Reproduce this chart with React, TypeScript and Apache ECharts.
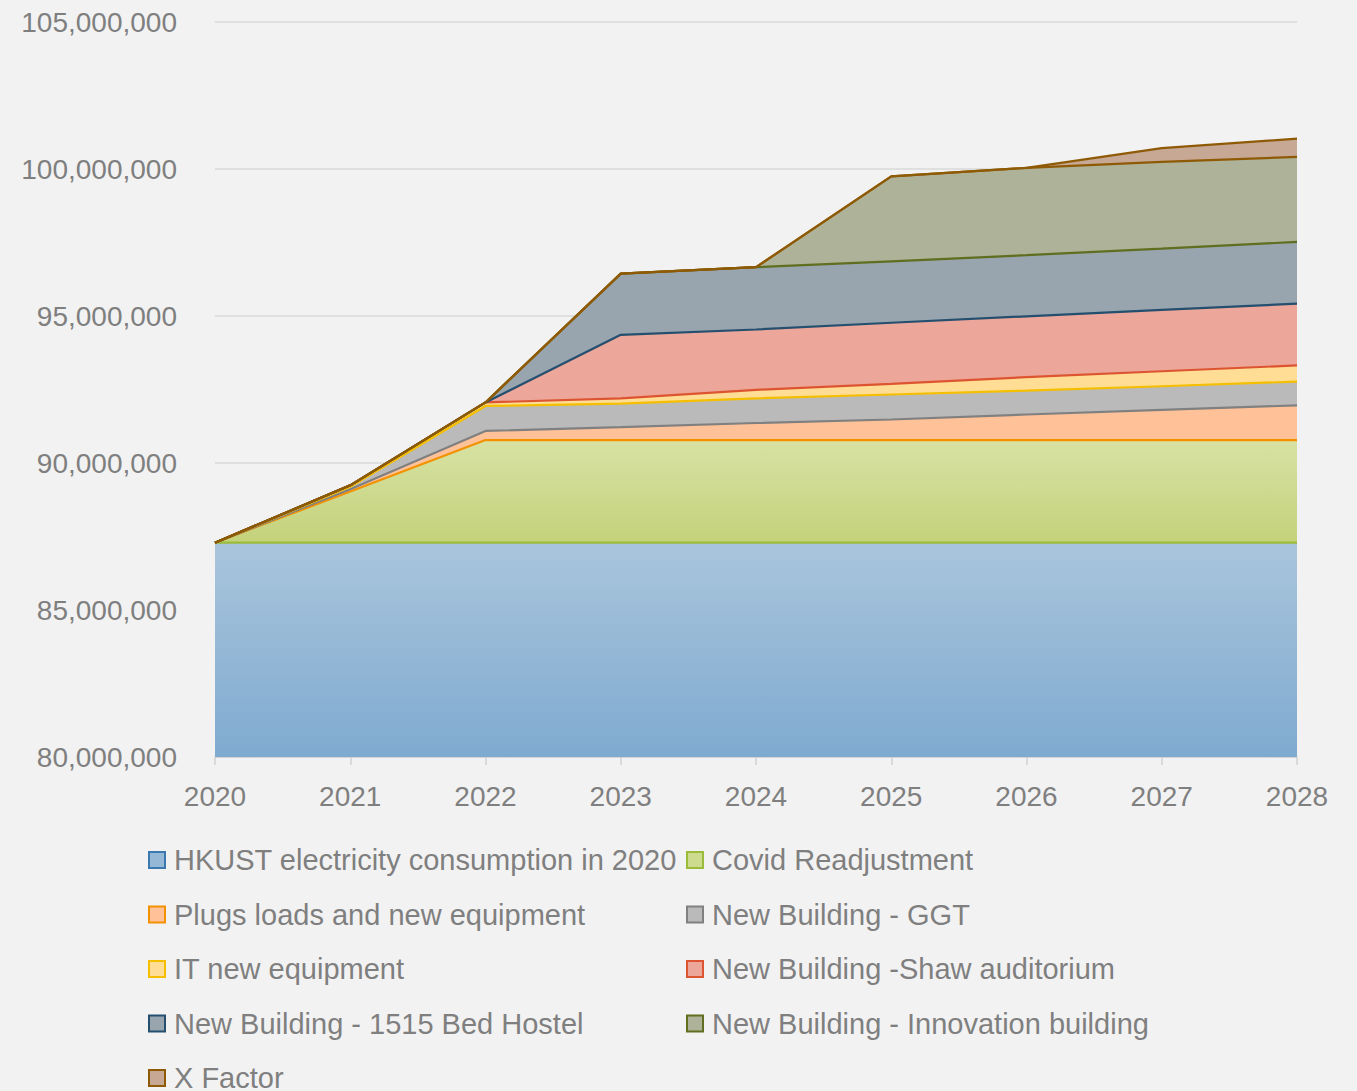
import React, { useEffect, useRef } from "react";
import * as echarts from "echarts";

const years = ["2020", "2021", "2022", "2023", "2024", "2025", "2026", "2027", "2028"];

const seriesNames = [
  "HKUST electricity consumption in 2020",
  "Covid Readjustment",
  "Plugs loads and new equipment",
  "New Building - GGT",
  "IT new equipment",
  "New Building -Shaw auditorium",
  "New Building - 1515 Bed Hostel",
  "New Building - Innovation building",
  "X Factor",
];

const baseConsumption = [87290000, 87290000, 87290000, 87290000, 87290000, 87290000, 87290000, 87290000, 87290000];
const covidReadjustment = [0, 1740000, 3490000, 3490000, 3490000, 3490000, 3490000, 3490000, 3490000];
const plugLoads = [0, 80000, 310000, 440000, 580000, 700000, 870000, 1030000, 1180000];
const buildingGGT = [0, 80000, 850000, 800000, 840000, 850000, 810000, 800000, 810000];
const itEquipment = [0, 50000, 120000, 180000, 290000, 360000, 460000, 510000, 550000];
const shawAuditorium = [0, 0, 0, 2160000, 2050000, 2080000, 2070000, 2090000, 2100000];
const bedHostel = [0, 0, 0, 2080000, 2120000, 2090000, 2080000, 2080000, 2100000];
const innovationBuilding = [0, 0, 0, 0, 0, 2890000, 2970000, 2950000, 2890000];
const xFactor = [0, 0, 0, 0, 0, 0, 0, 470000, 620000];

const yTicks = { min: 80000000, max: 105000000, interval: 5000000 };

const seriesData = [
  baseConsumption,
  covidReadjustment,
  plugLoads,
  buildingGGT,
  itEquipment,
  shawAuditorium,
  bedHostel,
  innovationBuilding,
  xFactor,
];

const borderColors = ["#3a78ad", "#9bbb3b", "#f39200", "#808080", "#f5bf00", "#dd5530", "#244f6e", "#5f6e1f", "#8f5a05"];
const fillColors: any[] = [
  new echarts.graphic.LinearGradient(0, 0, 0, 1, [
    { offset: 0, color: "#a9c5dc" },
    { offset: 1, color: "#7faad0" },
  ]),
  new echarts.graphic.LinearGradient(0, 0, 0, 1, [
    { offset: 0, color: "#d7e2a3" },
    { offset: 1, color: "#c4d27b" },
  ]),
  "#ffc197",
  "#bababa",
  "#ffdd94",
  "#eca69a",
  "#98a4ae",
  "#adb298",
  "#c6a895",
];
const legendFill = ["#95b8d6", "#cddb8f", "#ffc197", "#bababa", "#ffdd94", "#eca69a", "#98a4ae", "#adb298", "#c6a895"];

export default function App() {
  const ref = useRef<HTMLDivElement>(null);
  useEffect(() => {
    document.body.style.margin = "0";
    const chart = echarts.init(ref.current!, undefined, { renderer: "svg" });
    const font = "Liberation Sans";
    const textColor = "#7f7f7f";

    const areaSeries = seriesNames.map((name, i) => ({
      name,
      type: "line",
      stack: "areas",
      data: seriesData[i],
      symbol: "none",
      lineStyle: { width: 0, opacity: 0 },
      itemStyle: { color: legendFill[i], borderColor: borderColors[i] },
      areaStyle: { color: fillColors[i], opacity: 1 },
      z: 2,
    }));
    const lineSeries = seriesNames.map((name, i) => ({
      name: name + " (edge)",
      type: "line",
      stack: "edges",
      data: seriesData[i],
      symbol: "none",
      lineStyle: { width: 2.2, color: borderColors[Math.min(i + 1, borderColors.length - 1)] },
      z: 3,
      silent: true,
    }));

    const legendItems = (idx: number[]) =>
      idx.map((i) => ({
        name: seriesNames[i],
        icon: "rect",
        itemStyle: { color: legendFill[i], borderColor: borderColors[i], borderWidth: 2 },
      }));

    const legendCommon = {
      orient: "vertical",
      top: 845,
      height: 320,
      padding: 0,
      itemWidth: 16,
      itemHeight: 16,
      itemGap: 24.5,
      selectedMode: false,
      textStyle: { fontFamily: font, fontSize: 29, color: textColor, lineHeight: 30, padding: [0, 0, 0, 4] },
    };

    chart.setOption({
      animation: false,
      backgroundColor: "#f2f2f2",
      grid: { left: 215, right: 60, top: 22, bottom: 334 },
      xAxis: {
        type: "category",
        data: years,
        boundaryGap: false,
        axisLine: { lineStyle: { color: "#d0d0d0", width: 1.5 } },
        axisTick: { show: true, length: 8, lineStyle: { color: "#d0d0d0", width: 1.5 } },
        axisLabel: { fontFamily: font, fontSize: 28, color: textColor, margin: 25 },
        splitLine: { show: false },
      },
      yAxis: {
        type: "value",
        min: yTicks.min,
        max: yTicks.max,
        interval: yTicks.interval,
        axisLine: { show: false },
        axisTick: { show: false },
        axisLabel: {
          fontFamily: font,
          fontSize: 28,
          color: textColor,
          margin: 38,
          formatter: (v: number) => v.toLocaleString("en-US"),
        },
        splitLine: { lineStyle: { color: "#d9d9d9", width: 1.5 } },
      },
      legend: [
        { ...legendCommon, left: 148, data: legendItems([0, 2, 4, 6, 8]) },
        { ...legendCommon, left: 686, data: legendItems([1, 3, 5, 7]) },
      ],
      series: [...areaSeries, ...lineSeries],
    });
    return () => chart.dispose();
  }, []);
  return <div ref={ref} style={{ position: "absolute", left: 0, top: 0, width: 1357, height: 1091 }} />;
}
